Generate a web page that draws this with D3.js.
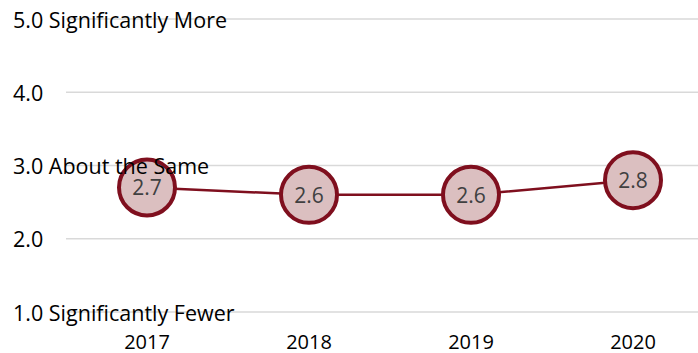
<!DOCTYPE html>
<html>
<head>
<meta charset="utf-8">
<script src="https://cdn.jsdelivr.net/npm/d3@7"></script>
<style>
  html, body { margin: 0; padding: 0; background: #fff; }
  svg { display: block; }
  text { font-family: "Open Sans", "Noto Sans", sans-serif; }
</style>
</head>
<body>
<svg id="chart" width="698" height="353"></svg>
<script>
// Survey years and average rating per year
const years = ["2017", "2018", "2019", "2020"];
const ratings = [2.7, 2.6, 2.6, 2.8];

// Rating scale ticks with their descriptive anchors
const tickValues = [1, 2, 3, 4, 5];
const tickLabels = ["1.0 Significantly Fewer", "2.0", "3.0 About the Same", "4.0", "5.0 Significantly More"];

const svg = d3.select("#chart");
const W = 698, H = 353;

const x = d3.scalePoint().domain(years).range([147, 633]);
const y = d3.scaleLinear().domain([1, 5]).range([312, 19]);

// Horizontal gridlines
svg.append("g")
  .selectAll("line")
  .data(tickValues)
  .join("line")
  .attr("x1", 66)
  .attr("x2", W)
  .attr("y1", d => y(d))
  .attr("y2", d => y(d))
  .attr("stroke", "#d9d9d9")
  .attr("stroke-width", 1.5);

// Connecting line
const pts = years.map((yr, i) => ({ yr, v: ratings[i] }));
svg.append("path")
  .datum(pts)
  .attr("fill", "none")
  .attr("stroke", "#7f0f1e")
  .attr("stroke-width", 2.5)
  .attr("d", d3.line().x(d => x(d.yr)).y(d => y(d.v)));

// Bubble markers with value labels
const marks = svg.append("g").selectAll("g").data(pts).join("g")
  .attr("transform", d => `translate(${x(d.yr)},${y(d.v)})`);
marks.append("circle")
  .attr("r", 28)
  .attr("fill", "#dbbfc0")
  .attr("stroke", "#7f0f1e")
  .attr("stroke-width", 4);
marks.append("text")
  .attr("text-anchor", "middle")
  .attr("dominant-baseline", "central")
  .attr("font-size", 21)
  .attr("fill", "#404040")
  .text(d => d.v.toFixed(1));

// X axis labels
svg.append("g").selectAll("text").data(years).join("text")
  .attr("x", d => x(d))
  .attr("y", 341)
  .attr("text-anchor", "middle")
  .attr("dominant-baseline", "central")
  .attr("font-size", 20)
  .attr("fill", "#000")
  .text(d => d);

// Y axis labels, drawn on top
svg.append("g").selectAll("text").data(tickValues).join("text")
  .attr("x", 13)
  .attr("y", d => y(d))
  .attr("dominant-baseline", "central")
  .attr("font-size", 21.5)
  .attr("fill", "#000")
  .text((d, i) => tickLabels[i]);
</script>
</body>
</html>
